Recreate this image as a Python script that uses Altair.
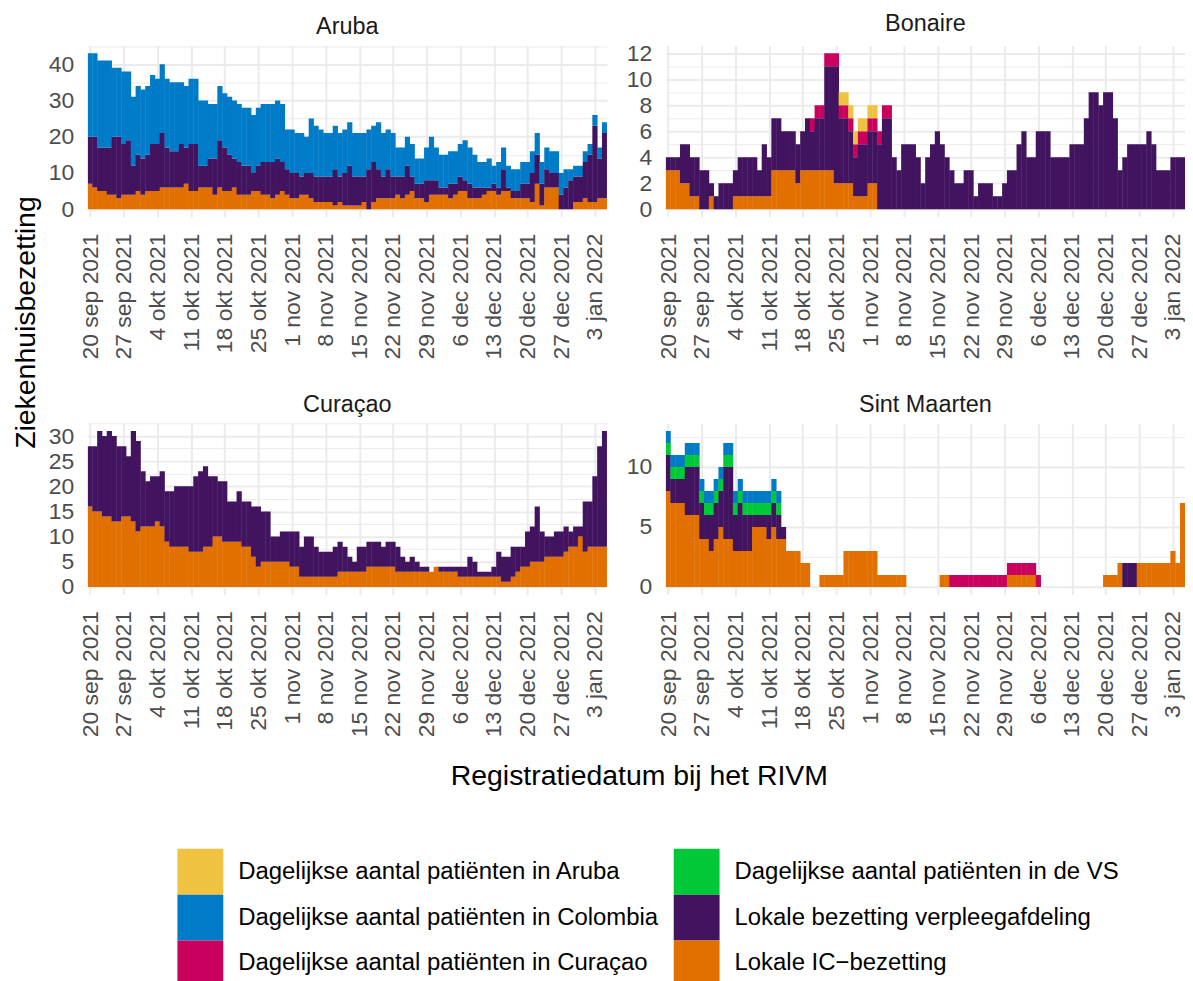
import altair as alt
import pandas as pd

# ------------------------------------------------------------------ data
START_DATE = "2021-09-20"
N_DAYS = 108
TICK_DATES = ["2021-09-20", "2021-09-27", "2021-10-04", "2021-10-11", "2021-10-18",
              "2021-10-25", "2021-11-01", "2021-11-08", "2021-11-15", "2021-11-22",
              "2021-11-29", "2021-12-06", "2021-12-13", "2021-12-20", "2021-12-27",
              "2022-01-03"]
MONTHS_NL = ["jan", "feb", "mrt", "apr", "mei", "jun", "jul", "aug", "sep", "okt", "nov", "dec"]

REGIONS = ["Aruba", "Bonaire", "Curaçao", "Sint Maarten"]
Y_MAX = {"Aruba": 43, "Bonaire": 12, "Curaçao": 31, "Sint Maarten": 13}
Y_MAJOR = {"Aruba": 10, "Bonaire": 2, "Curaçao": 5, "Sint Maarten": 5}

CAT_ARUBA = "Dagelijkse aantal patiënten in Aruba"
CAT_COLOMBIA = "Dagelijkse aantal patiënten in Colombia"
CAT_CURACAO = "Dagelijkse aantal patiënten in Curaçao"
CAT_VS = "Dagelijkse aantal patiënten in de VS"
CAT_WARD = "Lokale bezetting verpleegafdeling"
CAT_IC = "Lokale IC\u2212bezetting"

LEGEND_ORDER = [CAT_ARUBA, CAT_COLOMBIA, CAT_CURACAO, CAT_VS, CAT_WARD, CAT_IC]
LEGEND_COLORS = ["#EFC23F", "#007BC7", "#CA005D", "#00C837", "#42145F", "#E17000"]
# bottom -> top
STACK_ORDER = [CAT_IC, CAT_WARD, CAT_VS, CAT_CURACAO, CAT_COLOMBIA, CAT_ARUBA]

Y_TITLE = "Ziekenhuisbezetting"
X_TITLE = "Registratiedatum bij het RIVM"

# Aruba
aruba_ic = [7, 6, 5, 5, 4, 4, 3, 4, 4, 4,
            5, 4, 5, 5, 5, 6, 6, 6, 6, 6,
            7, 5, 5, 6, 6, 6, 4, 6, 5, 5,
            6, 4, 4, 4, 5, 5, 4, 4, 3, 4,
            5, 4, 3, 3, 4, 4, 3, 2, 2, 2,
            2, 1, 2, 1, 1, 1, 1, 2, 0, 2,
            3, 3, 3, 3, 4, 3, 4, 5, 3, 3,
            2, 4, 4, 4, 4, 3, 4, 5, 5, 3,
            3, 3, 4, 5, 5, 4, 5, 5, 3, 3,
            3, 3, 2, 7, 1, 6, 6, 6, 0, 0,
            0, 2, 2, 3, 2, 2, 3, 3]
aruba_ward = [13, 14, 12, 12, 13, 16, 17, 14, 15, 8,
              10, 10, 10, 13, 13, 15, 11, 10, 10, 12,
              10, 13, 13, 6, 6, 8, 10, 13, 12, 10,
              8, 9, 8, 8, 5, 7, 9, 9, 10, 10,
              8, 7, 7, 7, 5, 6, 7, 7, 7, 7,
              7, 10, 7, 9, 11, 8, 8, 7, 11, 11,
              8, 6, 8, 6, 5, 6, 8, 4, 4, 4,
              6, 4, 4, 2, 2, 4, 3, 4, 3, 4,
              3, 3, 2, 1, 2, 2, 6, 1, 2, 2,
              4, 4, 8, 8, 6, 5, 4, 4, 4, 6,
              8, 7, 7, 10, 13, 21, 11, 18]
aruba_colombia = [23, 23, 24, 24, 24, 19, 19, 20, 19, 19,
                  19, 19, 19, 19, 18, 19, 19, 19, 19, 17,
                  17, 18, 18, 18, 18, 15, 15, 15, 15, 16,
                  16, 16, 16, 16, 16, 16, 16, 16, 16, 16,
                  16, 11, 12, 11, 12, 10, 15, 14, 13, 12,
                  12, 12, 12, 12, 12, 12, 12, 12, 11, 10,
                  13, 12, 11, 12, 8, 8, 8, 9, 7, 7,
                  9, 12, 9, 9, 9, 9, 9, 9, 11, 10,
                  9, 7, 7, 8, 5, 7, 6, 6, 6, 6,
                  6, 6, 6, 6, 6, 6, 6, 6, 6, 5,
                  3, 3, 3, 3, 3, 3, 3, 3]

# Bonaire
bonaire_ic = [3, 3, 3, 2, 2, 1, 1, 0, 0, 1,
              0, 0, 0, 0, 1, 1, 1, 1, 1, 1,
              1, 1, 3, 3, 3, 3, 3, 2, 3, 3,
              3, 3, 3, 3, 3, 2, 2, 2, 2, 1,
              1, 1, 2, 2, 0, 0, 0, 0, 0, 0,
              0, 0, 0, 0, 0, 0, 0, 0, 0, 0,
              0, 0, 0, 0, 0, 0, 0, 0, 0, 0,
              0, 0, 0, 0, 0, 0, 0, 0, 0, 0,
              0, 0, 0, 0, 0, 0, 0, 0, 0, 0,
              0, 0, 0, 0, 0, 0, 0, 0, 0, 0,
              0, 0, 0, 0, 0, 0, 0, 0]
bonaire_ward = [1, 1, 1, 3, 3, 3, 3, 3, 3, 1,
                1, 2, 2, 2, 2, 3, 3, 3, 3, 2,
                4, 3, 4, 4, 3, 3, 3, 3, 3, 4,
                3, 4, 4, 8, 8, 9, 5, 5, 4, 3,
                4, 4, 4, 4, 5, 7, 7, 4, 3, 5,
                5, 5, 4, 2, 4, 5, 6, 5, 4, 3,
                2, 2, 3, 3, 1, 2, 2, 2, 1, 1,
                2, 3, 3, 5, 6, 4, 4, 6, 6, 6,
                4, 4, 4, 4, 5, 5, 5, 7, 9, 9,
                8, 9, 9, 7, 3, 4, 5, 5, 5, 5,
                6, 5, 3, 3, 3, 4, 4, 4]
bonaire_curacao = [0, 0, 0, 0, 0, 0, 0, 0, 0, 0,
                   0, 0, 0, 0, 0, 0, 0, 0, 0, 0,
                   0, 0, 0, 0, 0, 0, 0, 0, 0, 0,
                   1, 1, 1, 1, 1, 1, 1, 1, 1, 1,
                   1, 1, 1, 1, 1, 1, 1, 0, 0, 0,
                   0, 0, 0, 0, 0, 0, 0, 0, 0, 0,
                   0, 0, 0, 0, 0, 0, 0, 0, 0, 0,
                   0, 0, 0, 0, 0, 0, 0, 0, 0, 0,
                   0, 0, 0, 0, 0, 0, 0, 0, 0, 0,
                   0, 0, 0, 0, 0, 0, 0, 0, 0, 0,
                   0, 0, 0, 0, 0, 0, 0, 0]
bonaire_aruba = [0, 0, 0, 0, 0, 0, 0, 0, 0, 0,
                 0, 0, 0, 0, 0, 0, 0, 0, 0, 0,
                 0, 0, 0, 0, 0, 0, 0, 0, 0, 0,
                 0, 0, 0, 0, 0, 0, 1, 1, 1, 1,
                 1, 1, 1, 1, 0, 0, 0, 0, 0, 0,
                 0, 0, 0, 0, 0, 0, 0, 0, 0, 0,
                 0, 0, 0, 0, 0, 0, 0, 0, 0, 0,
                 0, 0, 0, 0, 0, 0, 0, 0, 0, 0,
                 0, 0, 0, 0, 0, 0, 0, 0, 0, 0,
                 0, 0, 0, 0, 0, 0, 0, 0, 0, 0,
                 0, 0, 0, 0, 0, 0, 0, 0]

# Curaçao
curacao_ic = [16, 15, 15, 14, 14, 13, 13, 14, 14, 13,
              11, 12, 12, 12, 13, 12, 9, 8, 8, 8,
              8, 7, 7, 7, 8, 8, 10, 10, 9, 9,
              9, 9, 8, 8, 6, 4, 5, 5, 5, 5,
              5, 5, 4, 4, 2, 2, 2, 2, 2, 2,
              2, 2, 3, 3, 3, 3, 3, 3, 4, 4,
              4, 4, 4, 4, 3, 3, 3, 3, 3, 3,
              3, 3, 4, 3, 3, 3, 3, 2, 2, 2,
              2, 2, 2, 2, 2, 2, 1, 1, 2, 3,
              4, 4, 5, 5, 5, 6, 6, 6, 6, 7,
              8, 8, 10, 7, 8, 8, 8, 8]
curacao_ward = [12, 13, 16, 16, 17, 17, 15, 14, 12, 18,
                18, 11, 9, 10, 9, 11, 10, 11, 12, 12,
                12, 13, 15, 16, 16, 14, 12, 11, 12, 8,
                8, 10, 9, 9, 10, 12, 10, 10, 5, 5,
                6, 6, 7, 7, 6, 8, 8, 6, 5, 5,
                5, 6, 6, 5, 3, 2, 5, 5, 5, 5,
                5, 4, 5, 5, 5, 3, 2, 3, 2, 1,
                1, 0, 0, 1, 1, 1, 1, 2, 2, 4,
                3, 1, 1, 1, 2, 5, 5, 5, 6, 5,
                4, 7, 7, 11, 6, 4, 4, 5, 5, 5,
                3, 4, 2, 10, 9, 14, 20, 23]

# Sint Maarten
sxm_ic = [8, 7, 7, 7, 6, 6, 6, 4, 4, 3,
          4, 5, 4, 4, 3, 3, 3, 3, 5, 5,
          5, 4, 5, 4, 4, 3, 3, 3, 2, 2,
          0, 0, 1, 1, 1, 1, 1, 3, 3, 3,
          3, 3, 3, 3, 1, 1, 1, 1, 1, 1,
          0, 0, 0, 0, 0, 0, 0, 1, 1, 0,
          0, 0, 0, 0, 0, 0, 0, 0, 0, 0,
          0, 1, 1, 1, 1, 1, 1, 0, 0, 0,
          0, 0, 0, 0, 0, 0, 0, 0, 0, 0,
          0, 1, 1, 1, 2, 0, 0, 0, 2, 2,
          2, 2, 2, 2, 2, 3, 2, 7]
sxm_ward = [3, 2, 2, 2, 4, 4, 4, 3, 2, 3,
            3, 3, 6, 6, 3, 4, 3, 3, 1, 1,
            1, 2, 2, 2, 1, 0, 0, 0, 0, 0,
            0, 0, 0, 0, 0, 0, 0, 0, 0, 0,
            0, 0, 0, 0, 0, 0, 0, 0, 0, 0,
            0, 0, 0, 0, 0, 0, 0, 0, 0, 0,
            0, 0, 0, 0, 0, 0, 0, 0, 0, 0,
            0, 0, 0, 0, 0, 0, 0, 0, 0, 0,
            0, 0, 0, 0, 0, 0, 0, 0, 0, 0,
            0, 0, 0, 0, 0, 2, 2, 2, 0, 0,
            0, 0, 0, 0, 0, 0, 0, 0]
sxm_vs = [1, 1, 1, 1, 1, 1, 1, 1, 1, 1,
          1, 1, 1, 1, 1, 1, 1, 1, 1, 1,
          1, 1, 1, 1, 0, 0, 0, 0, 0, 0,
          0, 0, 0, 0, 0, 0, 0, 0, 0, 0,
          0, 0, 0, 0, 0, 0, 0, 0, 0, 0,
          0, 0, 0, 0, 0, 0, 0, 0, 0, 0,
          0, 0, 0, 0, 0, 0, 0, 0, 0, 0,
          0, 0, 0, 0, 0, 0, 0, 0, 0, 0,
          0, 0, 0, 0, 0, 0, 0, 0, 0, 0,
          0, 0, 0, 0, 0, 0, 0, 0, 0, 0,
          0, 0, 0, 0, 0, 0, 0, 0]
sxm_colombia = [1, 1, 1, 1, 1, 1, 1, 1, 1, 1,
                1, 1, 1, 1, 1, 1, 1, 1, 1, 1,
                1, 1, 1, 1, 0, 0, 0, 0, 0, 0,
                0, 0, 0, 0, 0, 0, 0, 0, 0, 0,
                0, 0, 0, 0, 0, 0, 0, 0, 0, 0,
                0, 0, 0, 0, 0, 0, 0, 0, 0, 0,
                0, 0, 0, 0, 0, 0, 0, 0, 0, 0,
                0, 0, 0, 0, 0, 0, 0, 0, 0, 0,
                0, 0, 0, 0, 0, 0, 0, 0, 0, 0,
                0, 0, 0, 0, 0, 0, 0, 0, 0, 0,
                0, 0, 0, 0, 0, 0, 0, 0]
sxm_curacao = [0, 0, 0, 0, 0, 0, 0, 0, 0, 0,
               0, 0, 0, 0, 0, 0, 0, 0, 0, 0,
               0, 0, 0, 0, 0, 0, 0, 0, 0, 0,
               0, 0, 0, 0, 0, 0, 0, 0, 0, 0,
               0, 0, 0, 0, 0, 0, 0, 0, 0, 0,
               0, 0, 0, 0, 0, 0, 0, 0, 0, 1,
               1, 1, 1, 1, 1, 1, 1, 1, 1, 1,
               1, 1, 1, 1, 1, 1, 1, 1, 0, 0,
               0, 0, 0, 0, 0, 0, 0, 0, 0, 0,
               0, 0, 0, 0, 0, 0, 0, 0, 0, 0,
               0, 0, 0, 0, 0, 0, 0, 0]

SERIES = {
    "Aruba": {CAT_IC: aruba_ic, CAT_WARD: aruba_ward, CAT_COLOMBIA: aruba_colombia},
    "Bonaire": {CAT_IC: bonaire_ic, CAT_WARD: bonaire_ward,
                CAT_CURACAO: bonaire_curacao, CAT_ARUBA: bonaire_aruba},
    "Curaçao": {CAT_IC: curacao_ic, CAT_WARD: curacao_ward},
    "Sint Maarten": {CAT_IC: sxm_ic, CAT_WARD: sxm_ward, CAT_VS: sxm_vs,
                     CAT_COLOMBIA: sxm_colombia, CAT_CURACAO: sxm_curacao},
}

# ------------------------------------------------------------------ table (stacked)
dates = pd.date_range(START_DATE, periods=N_DAYS, freq="D")
half = pd.Timedelta(hours=12)
edge = pd.Timedelta(hours=13)   # tiny overlap between neighbouring days (no seams)
rows = []
for region, cats in SERIES.items():
    for i, d in enumerate(dates):
        base = 0
        for cat in STACK_ORDER:
            if cat not in cats:
                continue
            v = cats[cat][i]
            if v > 0:
                rows.append({
                    "region": region, "cat": cat,
                    "start": (d - edge).strftime("%Y-%m-%dT%H:%M:%S"),
                    "end": (d + edge).strftime("%Y-%m-%dT%H:%M:%S"),
                    "y0": base, "y1": base + v, "value": v,
                })
                base += v
df = pd.DataFrame(rows)


def to_dt(ts):
    return alt.DateTime(year=ts.year, month=ts.month, date=ts.day, hours=ts.hour)


x_lo = to_dt(dates[0] - half)
x_hi = to_dt(dates[-1] + half)
tick_vals = [to_dt(pd.Timestamp(t)) for t in TICK_DATES]
month_arr = "[" + ",".join("'%s'" % m for m in MONTHS_NL) + "]"
x_label_expr = ("date(datum.value) + ' ' + " + month_arr +
                "[month(datum.value)] + ' ' + year(datum.value)")

FONT = "Liberation Sans"
PANEL_W, PANEL_H = 521, 172


def panel(region):
    ymax = Y_MAX[region]
    major = Y_MAJOR[region]
    minor = major / 2
    lo, hi = -0.05 * ymax, ymax * 1.05
    yvals = []
    k = 0
    while k * minor <= hi:
        yvals.append(k * minor)
        k += 1
    return alt.Chart(df[df["region"] == region]).mark_bar(clip=True).encode(
        x=alt.X("start:T", title=None,
                scale=alt.Scale(domain=[x_lo, x_hi]),
                axis=alt.Axis(values=tick_vals, labelExpr=x_label_expr,
                              labelAngle=270, labelPadding=16, gridWidth=2)),
        x2="end:T",
        y=alt.Y("y0:Q", title=None,
                scale=alt.Scale(domain=[lo, hi], nice=False, zero=False),
                axis=alt.Axis(values=yvals, labelPadding=14,
                              labelExpr="datum.value %% %d === 0 ? datum.label : ''" % major,
                              gridWidth={"condition": {"test": "datum.value %% %d === 0" % major,
                                                       "value": 2},
                                         "value": 1})),
        y2="y1:Q",
        color=alt.Color("cat:N",
                        scale=alt.Scale(domain=LEGEND_ORDER, range=LEGEND_COLORS),
                        legend=alt.Legend(title=None, orient="none", legendX=90, legendY=806,
                                          direction="vertical",
                                          columns=2, symbolType="square", symbolSize=2116,
                                          symbolStrokeWidth=0, symbolOpacity=1,
                                          labelFontSize=24, labelFont=FONT, labelColor="#000000",
                                          labelOffset=15, labelLimit=800, rowPadding=0,
                                          columnPadding=15, padding=0)),
        tooltip=["cat:N", "value:Q"],
    ).properties(
        width=PANEL_W, height=PANEL_H,
        title=alt.TitleParams(region, fontSize=23.5, font=FONT, fontWeight="normal",
                              color="#1A1A1A", anchor="middle", offset=7),
    )


row1 = alt.hconcat(panel("Aruba"), panel("Bonaire"), spacing=19)
row2 = alt.hconcat(panel("Curaçao"), panel("Sint Maarten"), spacing=19)
grid = alt.vconcat(row1, row2, spacing=33,
                   title=alt.TitleParams(Y_TITLE, orient="left", anchor="middle",
                                         fontSize=28.5, font=FONT, fontWeight="normal",
                                         color="#000000", offset=8, dx=52))
mid = alt.vconcat(grid, title=alt.TitleParams(X_TITLE, orient="bottom", anchor="middle",
                                              fontSize=28.5, font=FONT, fontWeight="normal",
                                              color="#000000", offset=25, dx=41))
chart = alt.hconcat(mid)

chart = chart.properties(
    padding={"left": 3, "top": 2, "right": 0, "bottom": 0},
    background="white",
).configure_view(stroke=None).configure_axis(
    domain=False, ticks=False, tickSize=0, gridColor="#EBEBEB",
    labelColor="#4D4D4D", labelFont=FONT, labelFontSize=23,
).configure_concat(spacing=19)

chart.save("out.html", embed_options={"renderer": "svg", "actions": False})
